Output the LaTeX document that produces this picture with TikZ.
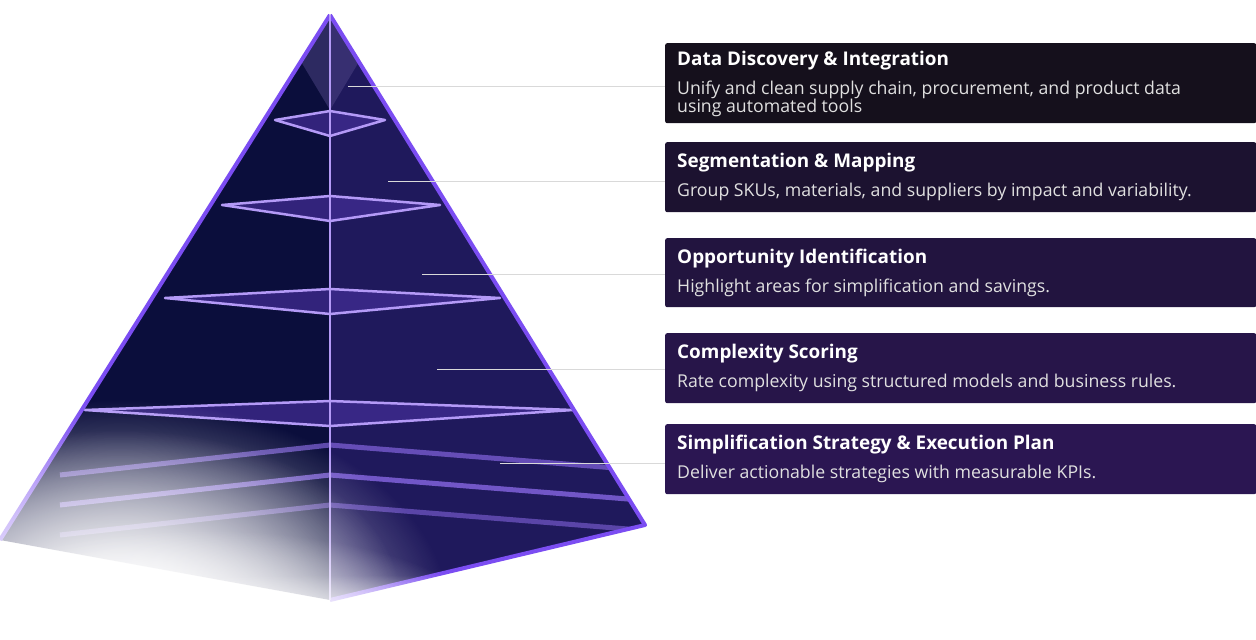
\documentclass[tikz,border=0pt]{standalone}
\usepackage{fontspec}
\setmainfont{Open Sans}
\usetikzlibrary{fadings}
\tikzfading[name=softc, inner color=transparent!0, outer color=transparent!100]
\definecolor{navy}{HTML}{0B0E3C}
\definecolor{edge}{HTML}{7B4DF2}
\definecolor{lite}{HTML}{B49AF7}
\definecolor{bxa}{HTML}{15101C}
\definecolor{bxb}{HTML}{1C1230}
\definecolor{bxc}{HTML}{22143F}
\definecolor{bxd}{HTML}{271549}
\definecolor{bxe}{HTML}{2B1652}
\tikzset{
  box/.style={anchor=north west,minimum width=591pt,inner sep=0pt,rounded corners=2pt},
  ttl/.style={anchor=north west,text=white,font=\fontsize{18.9}{20}\selectfont\bfseries,inner sep=0pt},
  dsc/.style={anchor=north west,text=white!88!black,font=\fontsize{17.7}{18}\selectfont,inner sep=0pt,align=left},
  lead/.style={white!70!gray,line width=1pt},
  rim/.style={edge,line width=4pt,line join=round},
  shelf/.style={lite,line width=2.5pt,line join=round},
}
\begin{document}
\begin{tikzpicture}[x=1pt,y=-1pt]
\useasboundingbox (0,0) rectangle (1256,640);
% pyramid faces
\fill[navy] (330,15) -- (0,540) -- (330,600) -- (645,525) -- cycle;
\fill[edge!30!navy,opacity=0.6] (330,15) -- (330,600) -- (645,525) -- cycle;
\fill[lite!40!navy,opacity=0.5] (330,15) -- (300,60) -- (330,110) -- (360,60)-- cycle;
% interior glow bands
\begin{scope}
\clip (330,15) -- (0,540) -- (330,600) -- (645,525) -- cycle;
\foreach \y/\a in {445/0.6,475/0.7,505/0.5}{
  \draw[edge!80!white,line width=5pt,opacity=\a] (60,\y+30) -- (330,\y) -- (640,\y+25);}
\end{scope}
% shelves
\foreach \y/\l/\r in {120/275/385,205/222/440,298/165/500,410/85/573}{
  \fill[edge!50!navy,opacity=0.7] (\l,\y) -- (330,\y-9) -- (\r,\y) -- (330,\y+16) -- cycle;
  \draw[shelf] (\l,\y) -- (330,\y-9) -- (\r,\y) -- (330,\y+16) -- cycle;}
% edges
\draw[rim] (330,15) -- (0,540);
\draw[rim] (330,15) -- (645,525) -- (330,600);
\draw[lite,line width=2.5pt] (330,15) -- (330,600);
% white fade on lower-left
\fill[white,path fading=softc] (120,620) ellipse (330 and 220);
\fill[white,path fading=softc] (120,600) ellipse (280 and 170);
\fill[white,path fading=softc] (200,640) ellipse (300 and 110);
\fill[white,path fading=north] (0,575) rectangle (700,640);
% boxes
\node[box,fill=bxa,minimum height=80pt] (b1) at (665,43) {};
\node[box,fill=bxb,minimum height=70pt] (b2) at (665,142) {};
\node[box,fill=bxc,minimum height=69pt] (b3) at (665,238) {};
\node[box,fill=bxd,minimum height=70pt] (b4) at (665,333) {};
\node[box,fill=bxe,minimum height=70pt] (b5) at (665,424) {};
\node[ttl] at (677,51) {Data Discovery \& Integration};
\node[dsc] at (677,81) {Unify and clean supply chain, procurement, and product data\\using automated tools};
\node[ttl] at (677,153) {Segmentation \& Mapping};
\node[dsc] at (677,183) {Group SKUs, materials, and suppliers by impact and variability.};
\node[ttl] at (677,249) {Opportunity Identification};
\node[dsc] at (677,279) {Highlight areas for simplification and savings.};
\node[ttl] at (677,344) {Complexity Scoring};
\node[dsc] at (677,374) {Rate complexity using structured models and business rules.};
\node[ttl] at (677,435) {Simplification Strategy \& Execution Plan};
\node[dsc] at (677,465) {Deliver actionable strategies with measurable KPIs.};
% leader lines
\coordinate (s1) at (348,86);  \coordinate (s2) at (388,181);
\coordinate (s3) at (422,274); \coordinate (s4) at (437,369);
\coordinate (s5) at (500,463);
\foreach \i in {1,...,5}{
  \draw[lead] (s\i) -- (s\i -| b\i.west);}
\end{tikzpicture}
\end{document}
